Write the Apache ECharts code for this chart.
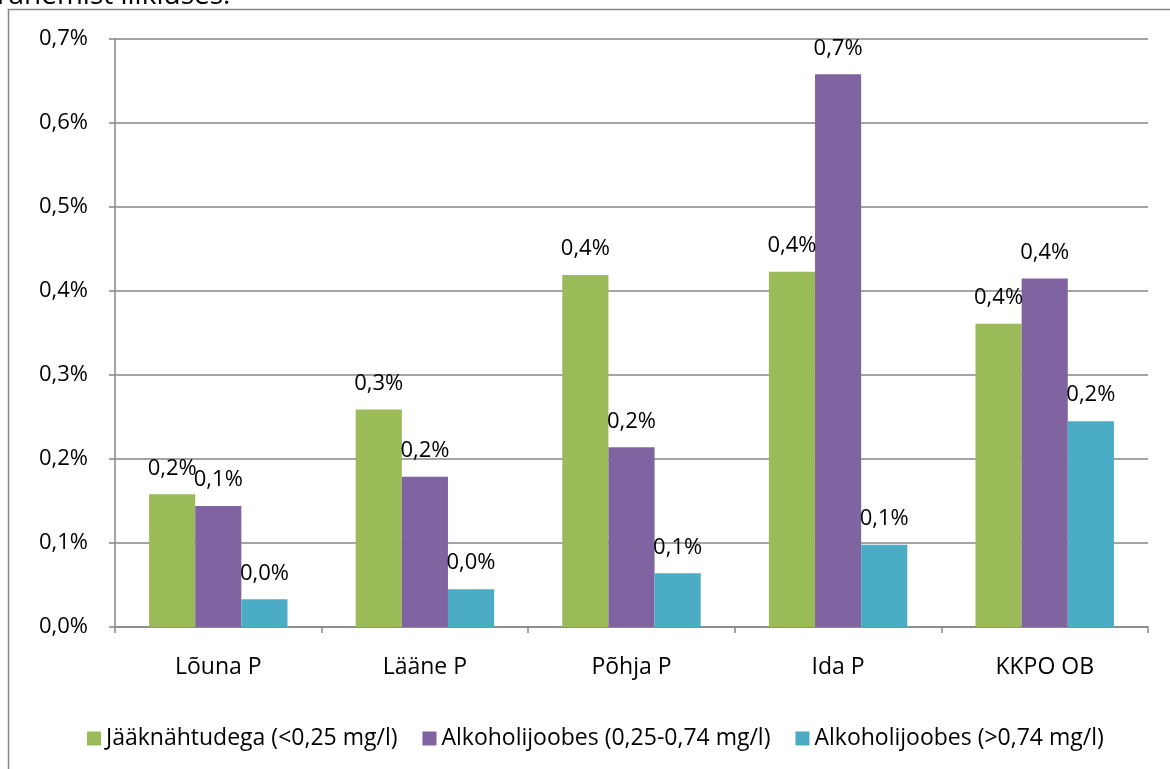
<!DOCTYPE html>
<html>
<head>
<meta charset="utf-8">
<script src="https://cdn.jsdelivr.net/npm/echarts@6/dist/echarts.min.js"></script>
<style>
html,body{margin:0;padding:0;background:#fff;}
#chart{width:1170px;height:769px;}
</style>
</head>
<body>
<div id="chart"></div>
<script>
const categories = ['Lõuna P', 'Lääne P', 'Põhja P', 'Ida P', 'KKPO OB'];
const seriesNames = ['Jääknähtudega (<0,25 mg/l)', 'Alkoholijoobes (0,25-0,74 mg/l)', 'Alkoholijoobes (>0,74 mg/l)'];
const jaaknahtudega = [0.158, 0.259, 0.419, 0.423, 0.361];
const joobes025 = [0.144, 0.179, 0.214, 0.658, 0.415];
const joobes074 = [0.033, 0.045, 0.064, 0.098, 0.245];
const yTicks = { min: 0, max: 0.7, interval: 0.1 };
const colors = ['#9BBB59', '#8064A2', '#4BACC6'];
const headerText = 'rahemist liikluses.';

const FONT = "'Open Sans', sans-serif";
const fmt = v => v.toFixed(1).replace('.', ',') + '%';

const chart = echarts.init(document.getElementById('chart'));
const dataSets = [jaaknahtudega, joobes025, joobes074];
chart.setOption({
  animation: false,
  backgroundColor: '#fff',
  title: {
    text: headerText,
    left: -3, top: -18, padding: 0,
    textStyle: { fontFamily: FONT, fontSize: 28, fontWeight: 'normal', color: '#000' }
  },
  graphic: [
    { type: 'rect', z: 0, shape: { x: 8.5, y: 9.5, width: 1300, height: 900 }, style: { fill: 'none', stroke: '#868686', lineWidth: 1.5 }, silent: true }
  ],
  grid: { left: 115, right: 22, top: 39, bottom: 142 },
  legend: {
    bottom: 14,
    left: 82,
    itemWidth: 14, itemHeight: 14, itemGap: 25,
    icon: 'rect',
    textStyle: { fontFamily: FONT, fontSize: 23, color: '#000' },
    data: seriesNames
  },
  xAxis: {
    type: 'category',
    data: categories,
    axisLine: { lineStyle: { color: '#868686', width: 1.5 } },
    axisTick: { show: true, length: 6, lineStyle: { color: '#868686', width: 1.5 } },
    axisLabel: { fontFamily: FONT, fontSize: 23, color: '#000', margin: 29 }
  },
  yAxis: {
    type: 'value',
    min: yTicks.min, max: yTicks.max, interval: yTicks.interval,
    axisLine: { show: true, lineStyle: { color: '#868686', width: 1.5 } },
    axisTick: { show: true, length: 6, lineStyle: { color: '#868686', width: 1.5 } },
    splitLine: { lineStyle: { color: '#868686', width: 1.5 } },
    axisLabel: { fontFamily: FONT, fontSize: 22, color: '#000', margin: 27, formatter: fmt }
  },
  series: seriesNames.map((name, i) => ({
    name,
    type: 'bar',
    data: dataSets[i],
    barGap: '0%',
    barCategoryGap: '33%',
    itemStyle: { color: colors[i] },
    label: {
      show: true, position: 'top', distance: 15,
      fontFamily: FONT, fontSize: 22, color: '#000',
      formatter: p => fmt(p.value)
    }
  }))
});
</script>
</body>
</html>
